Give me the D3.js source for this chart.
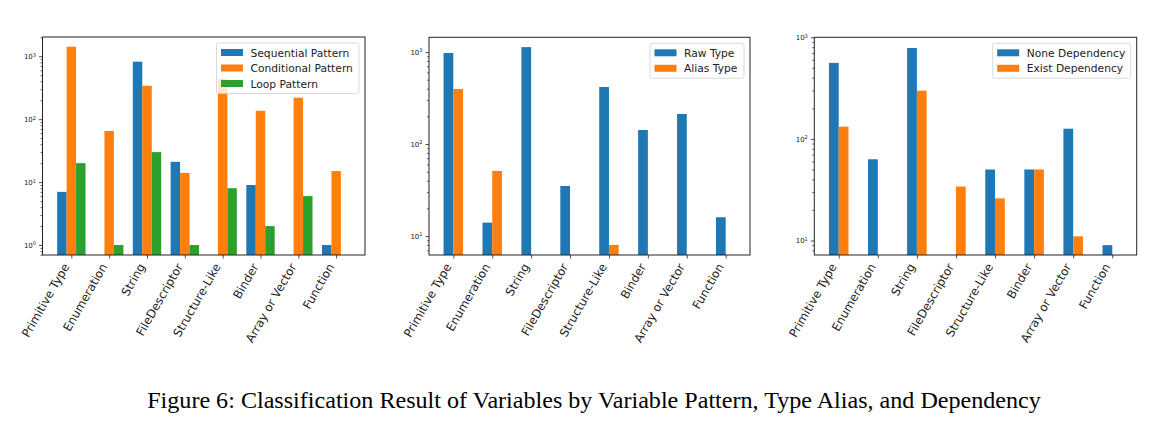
<!DOCTYPE html>
<html>
<head>
<meta charset="utf-8">
<script src="https://cdn.jsdelivr.net/npm/d3@7"></script>
<style>
  body { margin: 0; background: #fff; }
  svg { display: block; }
  .tick text { font-family: "DejaVu Sans", sans-serif; fill: #222; }
</style>
</head>
<body>
<svg id="fig" width="1156" height="422"></svg>
<script>
// categories shared by all three panels
var categories = ["Primitive Type", "Enumeration", "String", "FileDescriptor",
                  "Structure-Like", "Binder", "Array or Vector", "Function"];

// panel 1: variable pattern (0 = no bar)
var sequential = [7, 0, 820, 21, 0, 9, 0, 1];
var conditional = [1420, 65, 340, 14, 440, 136, 220, 15];
var loop = [20, 1, 30, 1, 8, 2, 6, 0];

// panel 2: type alias
var rawType = [975, 14, 1130, 35, 417, 142, 212, 16];
var aliasType = [396, 51, 0, 0, 8, 0, 0, 0];

// panel 3: dependency
var noneDep = [560, 63, 785, 0, 50, 50, 126, 9];
var existDep = [132, 0, 298, 34, 26, 50, 11, 0];

var majorTicks = [1, 10, 100, 1000];
var caption = "Figure 6: Classification Result of Variables by Variable Pattern, Type Alias, and Dependency";

var colors = ["#1f77b4", "#ff7f0e", "#2ca02c"];

var svg = d3.select("#fig");

function panel(opts) {
  var g = svg.append("g");
  var nSeries = opts.series.length;
  var w = 0.25;
  var half = (nSeries - 1) * w / 2;
  var lo = -half - w / 2, hi = categories.length - 1 + half + w / 2;
  var pad = (hi - lo) * 0.05;

  var x = d3.scaleLinear().domain([lo - pad, hi + pad]).range([opts.left, opts.right]);
  var y = d3.scaleLog().domain(opts.ydom).range([opts.bottom, opts.top]);

  // bars
  opts.series.forEach(function(s, si) {
    var off = -half + si * w;
    g.append("g").selectAll("rect")
      .data(s.values.map(function(v, i) { return {i: i, v: v}; }).filter(function(d) { return d.v > 0; }))
      .enter().append("rect")
      .attr("x", function(d) { return x(d.i + off - w / 2); })
      .attr("width", function(d) { return x(w) - x(0); })
      .attr("y", function(d) { return y(d.v); })
      .attr("height", function(d) { return opts.bottom - y(d.v); })
      .attr("fill", colors[si]);
  });

  // minor ticks
  var minors = [];
  for (var e = -1; e < 4; e++) {
    for (var m = 2; m < 10; m++) {
      var v = m * Math.pow(10, e);
      if (v >= opts.ydom[0] && v <= opts.ydom[1]) minors.push(v);
    }
  }
  g.append("g")
    .attr("transform", "translate(" + opts.left + ",0)")
    .call(d3.axisLeft(y).tickValues(minors).tickSize(2).tickFormat(""))
    .call(function(a) { a.select(".domain").remove(); a.selectAll("line").attr("stroke", "#222").attr("stroke-width", 0.7); });

  // major ticks with superscript labels
  var majors = majorTicks.filter(function(v) { return v >= opts.ydom[0] && v <= opts.ydom[1] * 1.001; });
  var ya = g.append("g")
    .attr("transform", "translate(" + opts.left + ",0)")
    .call(d3.axisLeft(y).tickValues(majors).tickSize(3.5).tickPadding(3).tickFormat(""));
  ya.select(".domain").remove();
  ya.selectAll("line").attr("stroke", "#222").attr("stroke-width", 0.8);
  ya.selectAll(".tick text").each(function(d) {
    var t = d3.select(this).attr("font-size", 7).attr("dy", "0.35em");
    t.append("tspan").text("10");
    t.append("tspan").attr("font-size", 5).attr("dy", "-0.5em").text(Math.round(Math.log10(d)));
  });

  // x axis
  var xa = g.append("g")
    .attr("transform", "translate(0," + opts.bottom + ")")
    .call(d3.axisBottom(x).tickValues(d3.range(categories.length)).tickSize(3.5)
      .tickFormat(function(i) { return categories[i]; }));
  xa.select(".domain").remove();
  xa.selectAll("line").attr("stroke", "#222").attr("stroke-width", 0.8);
  xa.selectAll(".tick text")
    .attr("font-size", 11.8)
    .attr("text-anchor", "end")
    .attr("y", 0).attr("dy", 0)
    .attr("transform", "translate(-2,11.5) rotate(-60)");

  // frame
  g.append("rect")
    .attr("x", opts.left).attr("y", opts.top)
    .attr("width", opts.right - opts.left).attr("height", opts.bottom - opts.top)
    .attr("fill", "none").attr("stroke", "#222").attr("stroke-width", 1);

  // legend
  var lg = g.append("g");
  var rowH = 15.5;
  var lx = opts.right - 6 - opts.legendW, ly = opts.top + 6;
  lg.append("rect")
    .attr("x", lx).attr("y", ly)
    .attr("width", opts.legendW).attr("height", nSeries * rowH + 4)
    .attr("rx", 2).attr("fill", "#fff").attr("fill-opacity", 0.8)
    .attr("stroke", "#d0d0d0").attr("stroke-width", 0.8);
  opts.series.forEach(function(s, si) {
    var cy = ly + 9.5 + si * rowH;
    lg.append("rect").attr("x", lx + 4.5).attr("y", cy - 3.5)
      .attr("width", 22).attr("height", 7).attr("fill", colors[si]);
    lg.append("text").attr("x", lx + 34).attr("y", cy + 4)
      .attr("font-family", "DejaVu Sans, sans-serif").attr("font-size", 10.7)
      .attr("fill", "#222").text(s.name);
  });
}

panel({
  left: 42.5, right: 365, top: 37, bottom: 255,
  ydom: [0.694, 2025], legendW: 142.5,
  series: [
    {name: "Sequential Pattern", values: sequential},
    {name: "Conditional Pattern", values: conditional},
    {name: "Loop Pattern", values: loop}
  ]
});

panel({
  left: 429, right: 750, top: 37.3, bottom: 255,
  ydom: [6.22, 1445], legendW: 94,
  series: [
    {name: "Raw Type", values: rawType},
    {name: "Alias Type", values: aliasType}
  ]
});

panel({
  left: 814.3, right: 1136.7, top: 37.3, bottom: 255,
  ydom: [7.2, 1000], legendW: 138,
  series: [
    {name: "None Dependency", values: noneDep},
    {name: "Exist Dependency", values: existDep}
  ]
});

svg.append("text")
  .attr("x", 594).attr("y", 408)
  .attr("text-anchor", "middle")
  .attr("font-family", "Liberation Serif, Times New Roman, serif")
  .attr("font-size", 24.1)
  .attr("fill", "#000")
  .text(caption);
</script>
</body>
</html>
